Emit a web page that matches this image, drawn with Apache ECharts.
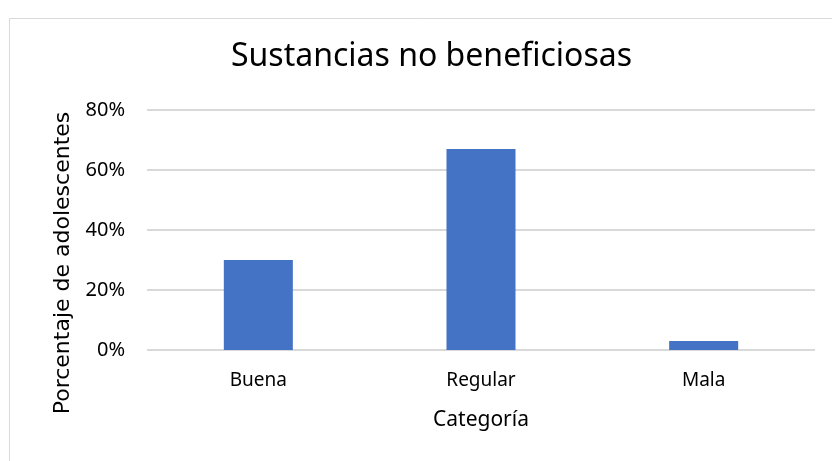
<!DOCTYPE html>
<html>
<head>
<meta charset="utf-8">
<script src="https://cdn.jsdelivr.net/npm/echarts@6/dist/echarts.min.js"></script>
<style>
  html, body { margin: 0; padding: 0; background: #fff; }
  #chart { width: 832px; height: 461px; }
</style>
</head>
<body>
<div id="chart"></div>
<script>
var categories = ["Buena", "Regular", "Mala"];
var values = [30, 67, 3];
var yTicks = [0, 20, 40, 60, 80];

var font = "'Noto Sans', 'Open Sans', sans-serif";
var myChart = echarts.init(document.getElementById("chart"));

myChart.setOption({
  animation: false,
  title: {
    text: "Sustancias no beneficiosas",
    left: 226,
    top: 36,
    textStyle: { fontFamily: font, fontSize: 32, fontWeight: "normal", color: "#000" },
  },
  graphic: [
    {
      type: "rect",
      shape: { x: 9.5, y: 18.5, width: 900, height: 600 },
      style: { fill: "none", stroke: "#d9d9d9", lineWidth: 1 },
      silent: true,
    },
  ],
  grid: { left: 147, right: 17, top: 110, bottom: 111 },
  xAxis: {
    type: "category",
    data: categories,
    axisLine: { show: false },
    axisTick: { show: false },
    axisLabel: { margin: 21, fontFamily: font, fontSize: 19, color: "#000" },
    name: "Categoría",
    nameLocation: "middle",
    nameGap: 60,
    nameTextStyle: { fontFamily: font, fontSize: 21, color: "#000" },
  },
  yAxis: {
    type: "value",
    min: yTicks[0],
    max: yTicks[yTicks.length - 1],
    interval: 20,
    axisLine: { show: false },
    axisTick: { show: false },
    splitLine: { lineStyle: { color: "#d9d9d9", width: 2 } },
    axisLabel: { margin: 22, fontFamily: font, fontSize: 20, color: "#000", formatter: "{value}%" },
    name: "Porcentaje de adolescentes",
    nameLocation: "middle",
    nameGap: 73,
    nameTextStyle: {
      fontFamily: "'DejaVu Sans', sans-serif",
      fontSize: 22,
      color: "#000",
      padding: [0, 66, 0, 0],
    },
  },
  series: [
    {
      type: "bar",
      data: values,
      barWidth: "31%",
      itemStyle: { color: "#4472c4" },
    },
  ],
});
</script>
</body>
</html>
